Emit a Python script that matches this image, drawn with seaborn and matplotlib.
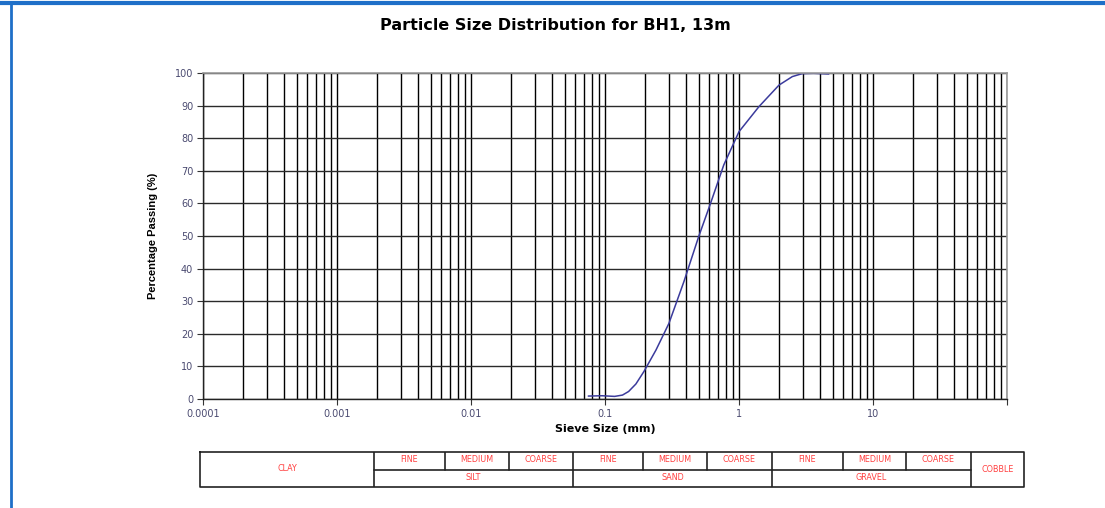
import numpy as np
import pandas as pd
import matplotlib
matplotlib.use("Agg")
import matplotlib.pyplot as plt
from matplotlib.lines import Line2D
from matplotlib.ticker import FixedLocator, NullFormatter
import seaborn as sns

# ---- data ----
sieve_mm = [0.075, 0.095, 0.118, 0.135, 0.150, 0.170, 0.195, 0.24, 0.30, 0.388, 0.50, 0.613,
            0.77, 1.0, 1.41, 1.99, 2.5, 2.96, 3.6, 4.68]
passing = [0.9, 1.0, 0.8, 1.2, 2.3, 4.6, 8.4, 15.0, 23.2, 36.0, 49.8, 60.0,
           71.8, 82.0, 89.7, 96.3, 98.9, 99.8, 99.9, 99.7]
x_ticks = [0.0001, 0.001, 0.01, 0.1, 1, 10]
x_tick_labels = ["0.0001", "0.001", "0.01", "0.1", "1", "10"]
y_ticks = [0, 10, 20, 30, 40, 50, 60, 70, 80, 90, 100]

title = "Particle Size Distribution for BH1, 13m"
xlabel = "Sieve Size (mm)"
ylabel = "Percentage Passing (%)"

# classification table
main_classes = ["CLAY", "SILT", "SAND", "GRAVEL", "COBBLE"]
sub_classes = ["FINE", "MEDIUM", "COARSE"]

sns.set_style("white")
plt.rcParams['font.family'] = ['DejaVu Sans']

W, H = 1105, 508
fig = plt.figure(figsize=(W / 100, H / 100), dpi=100)

def fx(px):
    return px / W

def fy(py):
    return 1 - py / H

ax = fig.add_axes([fx(203), fy(399), fx(1007) - fx(203), fy(73) - fy(399)])
df = pd.DataFrame({"size": sieve_mm, "pass": passing})
sns.lineplot(data=df, x="size", y="pass", ax=ax, color="#3b3b9c", lw=1.1)

ax.set_xscale("log")
ax.set_xlim(0.0001, 100)
ax.set_ylim(0, 100)
ax.xaxis.set_major_locator(FixedLocator(x_ticks + [100]))
ax.set_xticklabels(x_tick_labels + [""])
minor = [m * 10.0 ** e for e in range(-4, 2) for m in range(2, 10)]
ax.xaxis.set_minor_locator(FixedLocator(minor))
ax.xaxis.set_minor_formatter(NullFormatter())
ax.set_yticks(y_ticks)
ax.set_yticklabels([str(v) for v in y_ticks])

ax.grid(True, which="major", axis="x", color="black", lw=1.0)
ax.grid(True, which="minor", axis="x", color="black", lw=1.0)
ax.grid(True, which="major", axis="y", color="#2a2a2a", lw=1.0)
ax.set_axisbelow(True)

ax.tick_params(axis="both", which="major", direction="out", length=4, width=0.8,
               color="#333333", labelsize=7, labelcolor="#4a4a70", pad=3,
               bottom=True, left=True)
ax.tick_params(axis="x", which="minor", length=0)
for s in ["top", "right"]:
    ax.spines[s].set_color("#999999")
    ax.spines[s].set_linewidth(1.2)
for s in ["left", "bottom"]:
    ax.spines[s].set_color("#222222")
    ax.spines[s].set_linewidth(1.0)

ax.set_xlabel(xlabel, fontsize=8, fontweight="bold", labelpad=4, color="black")
ax.set_ylabel(ylabel, fontsize=8, fontweight="bold", labelpad=12, color="black",
              family=['Liberation Sans Narrow', 'Liberation Sans', 'DejaVu Sans'])

fig.text(fx(555), fy(25), title, ha="center", va="center", fontsize=11.5,
         fontweight="bold", color="black")

# blue frame of the screenshot
fig.add_artist(Line2D([0, 1], [fy(3), fy(3)], color="#1e6fc8", lw=3))
fig.add_artist(Line2D([fx(11), fx(11)], [fy(3), 0], color="#1e6fc8", lw=2))

# ---- classification table ----
tax = fig.add_axes([fx(200), fy(487), fx(1024) - fx(200), fy(452) - fy(487)])
tax.set_xlim(200, 1024)
tax.set_ylim(487, 452)
tax.axis("off")
lc = "#222222"
top, mid, bot = 452, 469.5, 487
tax.plot([200, 1024, 1024, 200, 200], [top, top, bot, bot, top], color=lc, lw=1.2, clip_on=False)
main_edges = [200, 374, 573, 772, 971, 1024]
sub_edges = [[374, 445, 509, 573], [573, 643, 707, 772], [772, 843, 906, 971]]
for e in main_edges[1:-1]:
    tax.plot([e, e], [top, bot], color=lc, lw=1.2)
tax.plot([374, 971], [mid, mid], color=lc, lw=1.2)
txt_kw = dict(ha="center", va="center", fontsize=5.8, color="#ff4040")
for edges in sub_edges:
    for e in edges[1:-1]:
        tax.plot([e, e], [top, mid], color=lc, lw=1.2)
    for i, name in enumerate(sub_classes):
        tax.text((edges[i] + edges[i + 1]) / 2, (top + mid) / 2 - 1, name, **txt_kw)
tax.text((main_edges[0] + main_edges[1]) / 2, (top + bot) / 2 - 1, main_classes[0], **txt_kw)
for i in range(1, 4):
    tax.text((main_edges[i] + main_edges[i + 1]) / 2, (mid + bot) / 2 - 1, main_classes[i], **txt_kw)
tax.text((main_edges[4] + main_edges[5]) / 2, (top + bot) / 2, main_classes[4], **txt_kw)

fig.savefig("out.png", dpi=100)
